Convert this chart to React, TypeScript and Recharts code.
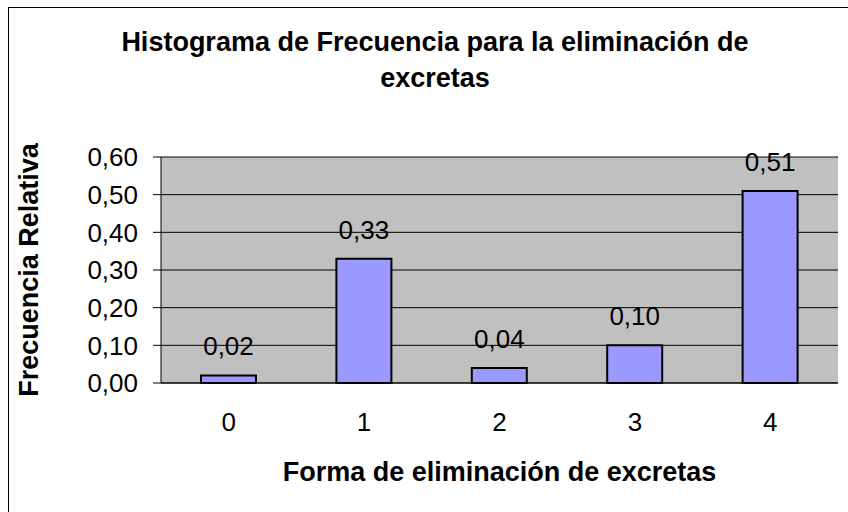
import React from "react";
import {
  BarChart,
  Bar,
  XAxis,
  YAxis,
  CartesianGrid,
  LabelList,
  Label,
} from "recharts";

const categories = ["0", "1", "2", "3", "4"];
const frecuencia = [0.02, 0.33, 0.04, 0.1, 0.51];
const yTicks = [0, 0.1, 0.2, 0.3, 0.4, 0.5, 0.6];
const boundaryTicks = [-0.5, 0.5, 1.5, 2.5, 3.5, 4.5];

const data = categories.map((c, i) => ({ forma: c, idx: i, valor: frecuencia[i] }));

const FONT = "'Liberation Sans', Arial, sans-serif";
const fmt = (v: number) => v.toFixed(2).replace(".", ",");

export default function App() {
  return (
    <div
      style={{
        position: "absolute",
        left: 0,
        top: 0,
        width: 848,
        height: 512,
        overflow: "hidden",
        background: "#fff",
        fontFamily: FONT,
      }}
    >
      <div
        style={{
          position: "absolute",
          left: 8,
          top: 7,
          width: 900,
          height: 600,
          border: "1px solid #000",
        }}
      />
      <div
        style={{
          position: "absolute",
          left: 0,
          width: 870,
          top: 24,
          textAlign: "center",
          fontWeight: "bold",
          fontSize: 27,
          lineHeight: "36px",
          color: "#000",
        }}
      >
        Histograma de Frecuencia para la eliminación de
        <br />
        excretas
      </div>
      <div style={{ position: "absolute", left: 0, top: 0 }}>
        <BarChart
          width={848}
          height={512}
          data={data}
          margin={{ top: 157, right: 10, bottom: 0, left: 0 }}
          barSize={55}
        >
          <CartesianGrid
            horizontal
            vertical={false}
            fill="#C0C0C0"
            stroke="#000"
            strokeWidth={1}
          />
          <XAxis
            dataKey="forma"
            height={129}
            tickLine={false}
            axisLine={{ stroke: "#000" }}
            tick={{ fill: "#000", fontSize: 26, fontFamily: FONT }}
            tickMargin={24}
          >
            <Label
              value="Forma de eliminación de excretas"
              position="insideTop"
              offset={79}
              style={{ fontWeight: "bold", fontSize: 27, fill: "#000", fontFamily: FONT }}
            />
          </XAxis>
          <XAxis
            xAxisId="b"
            dataKey="idx"
            type="number"
            domain={[-0.5, 4.5]}
            ticks={boundaryTicks}
            height={0}
            axisLine={false}
            tickLine={{ stroke: "#000" }}
            tickSize={7}
            tickFormatter={() => ""}
            orientation="bottom"
          />
          <YAxis
            width={161}
            domain={[0, 0.6]}
            ticks={yTicks}
            tickFormatter={fmt}
            tickSize={8}
            tickMargin={15}
            axisLine={{ stroke: "#000" }}
            tickLine={{ stroke: "#000" }}
            tick={{ fill: "#000", fontSize: 26, fontFamily: FONT }}
          >
            <Label
              value="Frecuencia Relativa"
              angle={-90}
              position="insideLeft"
              offset={28}
              style={{
                fontWeight: "bold",
                fontSize: 27,
                fill: "#000",
                fontFamily: FONT,
                textAnchor: "middle",
              }}
            />
          </YAxis>
          <Bar
            dataKey="valor"
            fill="#9999FF"
            stroke="#000"
            strokeWidth={2}
            isAnimationActive={false}
          >
            <LabelList
              dataKey="valor"
              position="top"
              offset={20}
              formatter={(v: any) => fmt(Number(v))}
              style={{ fill: "#000", fontSize: 26, fontFamily: FONT }}
            />
          </Bar>
        </BarChart>
      </div>
    </div>
  );
}
